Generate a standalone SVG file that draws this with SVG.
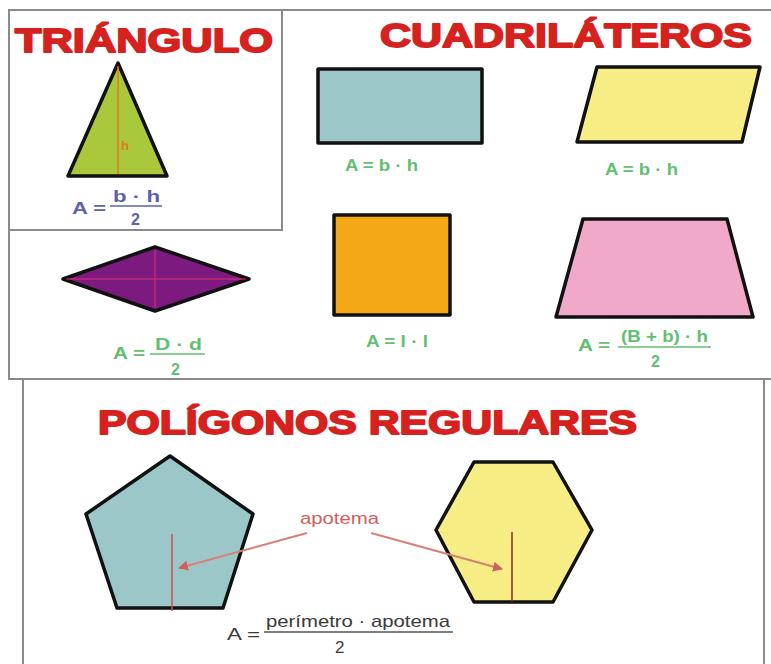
<svg xmlns="http://www.w3.org/2000/svg" width="771" height="664" viewBox="0 0 771 664">
<defs>
<style>
.frame{fill:none;stroke:#8a8a8a;stroke-width:2}
.shape{stroke:#111;stroke-width:3.5;stroke-linejoin:round}
.title{font-family:"Liberation Sans",Arial,sans-serif;font-weight:bold;fill:#d6221f;stroke:#d6221f;stroke-width:1.8;stroke-linejoin:round}
.f{font-family:"Liberation Sans",Arial,sans-serif;font-size:16px;font-weight:bold}
.green{fill:#62bf72}
.blue{fill:#5b5fae}
.dark{fill:#3a3a3a;font-weight:normal;font-size:17px}
.fl-green{stroke:#62bf72;stroke-width:1.5}
.fl-blue{stroke:#5b5fae;stroke-width:1.5}
.fl-dark{stroke:#555;stroke-width:1.5}
.apo{font-family:"Liberation Sans",Arial,sans-serif;font-size:16px;fill:#d0605c}
.conn{fill:none;stroke:#d88078;stroke-width:2}
</style>
<marker id="ah" viewBox="0 0 10 10" refX="9" refY="5" markerWidth="5" markerHeight="5" orient="auto">
<path d="M0,0 L10,5 L0,10 z" fill="#d0605c"/>
</marker>
</defs>
<rect x="0" y="0" width="771" height="664" fill="#ffffff"/>

<g id="frames">
<polyline class="frame" points="771,10 9,10 9,379 771,379"/>
<polyline class="frame" points="282,10 282,230 9,230"/>
<line class="frame" x1="23" y1="379" x2="23" y2="664"/>
<line class="frame" x1="764" y1="379" x2="764" y2="664"/>
</g>

<g id="titles">
<text class="title" x="15" y="52" font-size="34" textLength="258" lengthAdjust="spacingAndGlyphs">TRIÁNGULO</text>
<text class="title" x="380" y="47" font-size="34" textLength="372" lengthAdjust="spacingAndGlyphs">CUADRILÁTEROS</text>
<text class="title" x="98" y="434" font-size="33" textLength="539" lengthAdjust="spacingAndGlyphs">POLÍGONOS REGULARES</text>
</g>

<g id="triangle">
<polygon class="shape" points="118,63 167,176 68,176" fill="#a9c83c"/>
<line x1="118" y1="66" x2="118" y2="174" stroke="#e07a20" stroke-width="1.5"/>
<text x="121" y="150" font-family="Liberation Sans,Arial,sans-serif" font-size="13" font-weight="bold" fill="#e07a20">h</text>
<text class="f blue" x="72" y="214" textLength="34" lengthAdjust="spacingAndGlyphs">A =</text>
<text class="f blue" x="113" y="202" textLength="47" lengthAdjust="spacingAndGlyphs">b · h</text>
<line class="fl-blue" x1="110" y1="206" x2="162" y2="206"/>
<text class="f blue" x="131" y="225">2</text>
</g>

<g id="rectangle">
<rect class="shape" x="318" y="69" width="164" height="74" fill="#9cc7c9"/>
<text class="f green" x="345" y="171" textLength="73" lengthAdjust="spacingAndGlyphs">A = b · h</text>
</g>

<g id="parallelogram">
<polygon class="shape" points="597,67 760,67 742,142 577,142" fill="#f6ee84"/>
<text class="f green" x="605" y="175" textLength="73" lengthAdjust="spacingAndGlyphs">A = b · h</text>
</g>

<g id="rhombus">
<polygon class="shape" points="63,279 155,247 249,279 155,311" fill="#7d1a80"/>
<line x1="66" y1="279" x2="246" y2="279" stroke="#e0306a" stroke-width="1"/>
<line x1="155" y1="250" x2="155" y2="308" stroke="#e0306a" stroke-width="1"/>
<text class="f green" x="113" y="359" textLength="32" lengthAdjust="spacingAndGlyphs">A =</text>
<text class="f green" x="155" y="350" textLength="47" lengthAdjust="spacingAndGlyphs">D · d</text>
<line class="fl-green" x1="150" y1="354" x2="205" y2="354"/>
<text class="f green" x="171" y="375">2</text>
</g>

<g id="square">
<rect class="shape" x="334" y="215" width="116" height="100" fill="#f5a816"/>
<text class="f green" x="366" y="347" textLength="62" lengthAdjust="spacingAndGlyphs">A = l · l</text>
</g>

<g id="trapezoid">
<polygon class="shape" points="583,219 727,219 753,317 556,317" fill="#f1a9c9"/>
<text class="f green" x="578" y="351" textLength="32" lengthAdjust="spacingAndGlyphs">A =</text>
<text class="f green" x="621" y="342" textLength="87" lengthAdjust="spacingAndGlyphs">(B + b) · h</text>
<line class="fl-green" x1="618" y1="347" x2="711" y2="347"/>
<text class="f green" x="651" y="367">2</text>
</g>

<g id="pentagon">
<polygon class="shape" points="170,456 253,514 223,608 117,608 86,514" fill="#9cc7c9"/>
<line x1="172" y1="534" x2="172" y2="611" stroke="#c8504c" stroke-width="1.5"/>
</g>

<g id="hexagon">
<polygon class="shape" points="474,462 553,462 592,530 553,602 474,602 436,530" fill="#f6ee84"/>
<line x1="512" y1="532" x2="512" y2="602" stroke="#7a3020" stroke-width="1.5"/>
</g>

<g id="apotema-label">
<text class="apo" x="300" y="524" textLength="79" lengthAdjust="spacingAndGlyphs">apotema</text>
</g>

<g id="connectors">
<line class="conn" x1="307" y1="533" x2="179" y2="568" marker-end="url(#ah)"/>
<line class="conn" x1="371" y1="533" x2="502" y2="569" marker-end="url(#ah)"/>
</g>

<g id="formula-polygons">
<text class="f dark" x="227" y="640" textLength="33" lengthAdjust="spacingAndGlyphs">A =</text>
<text class="f dark" x="266" y="627" textLength="184" lengthAdjust="spacingAndGlyphs">perímetro · apotema</text>
<line class="fl-dark" x1="264" y1="632" x2="453" y2="632"/>
<text class="f dark" x="335" y="653">2</text>
</g>
</svg>
